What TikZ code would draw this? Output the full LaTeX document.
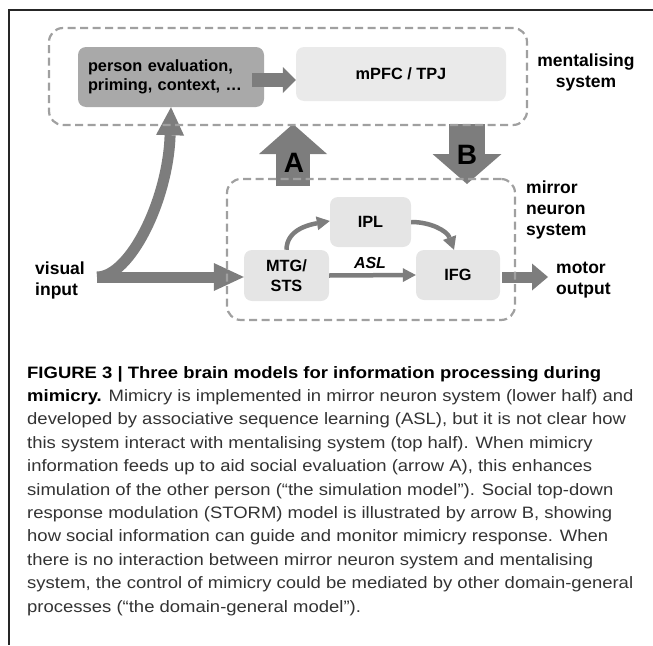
\documentclass[tikz,border=0pt]{standalone}
\usepackage{fontspec}
\setmainfont{Liberation Sans}
\newfontfamily\capfont{Liberation Sans}[FakeStretch=1.12]
\usetikzlibrary{arrows.meta,calc}
\definecolor{arrowgray}{HTML}{7D7D7D}
\definecolor{darkbox}{HTML}{A9A9A9}
\definecolor{lightbox}{HTML}{E5E5E5}
\definecolor{dashgray}{HTML}{A0A0A0}
\definecolor{captext}{HTML}{333333}
\begin{document}
\begin{tikzpicture}[x=1pt,y=-1pt,
  dashbox/.style={draw=dashgray, line width=2.2pt, dash pattern=on 8pt off 4.5pt, rounded corners=14pt, inner sep=0pt},
  graybox/.style={fill=lightbox, rounded corners=8pt, inner sep=0pt, font=\fontsize{16.3}{19.5}\selectfont\bfseries, align=center},
  sidelabel/.style={inner sep=0pt, font=\fontsize{17.5}{21}\selectfont\bfseries},
  blockarrow/.style={draw=arrowgray, color=arrowgray},
  thinarrow/.style={draw=arrowgray, line width=4.5pt, -{Triangle[length=13pt,width=14pt,line width=0pt]}},
  capline/.style={anchor=base west, inner sep=0pt, font=\fontsize{16.5}{20}\capfont, text=captext}
]
\useasboundingbox (0,0) rectangle (653,645);
% frame
\draw[line width=1.5pt, color=black!85] (653,10) -- (9,10) -- (9,645);

% boxes
\node[graybox, fill=darkbox, minimum width=186pt, minimum height=60pt, text width=166pt, align=left] (pe) at (171,77) {person evaluation,\\priming, context, …};
\node[graybox, fill=lightbox!80!white, minimum width=210pt, minimum height=54pt] (mpfc) at (401,74) {mPFC / TPJ};
\node[graybox, minimum width=81pt, minimum height=50pt] (ipl) at (370.5,222) {IPL};
\node[graybox, minimum width=85pt, minimum height=51pt] (mtg) at (286.5,275.5) {MTG/\\STS};
\node[graybox, minimum width=84pt, minimum height=50pt] (ifg) at (458,275) {IFG};

% side labels
\node[sidelabel, align=center] (ment) at (586,72.5) {mentalising\\system};
\node[sidelabel, align=left, anchor=west] (mirr) at (526,209.5) {mirror\\neuron\\system};
\node[sidelabel, align=left, anchor=west] (vis) at (35,280) {visual\\input};
\node[sidelabel, align=left, anchor=west] (mot) at (556,280.5) {motor\\output};

% coordinates
\coordinate (vin) at (97,277);
\coordinate (pestart) at ([xshift=-12pt,yshift=-3pt]pe.east);
\coordinate (Abot) at (293,186);
\coordinate (Atip) at (293,124);
\coordinate (Btop) at (467,124);
\coordinate (Btip) at (467,184);
\coordinate (ifgout) at (502,277);
\coordinate (motend) at (548,277);

% block arrows
\draw[blockarrow, line width=14pt, -{Triangle[length=13pt,width=26pt,line width=0pt]}] (pestart) -- (pestart -| mpfc.west);
\draw[blockarrow, line width=11pt, -{Triangle[length=30pt,width=28pt,line width=0pt]}] (vin) -- (vin -| mtg.west);
\draw[blockarrow, line width=11pt, -{Triangle[length=28pt,width=28pt,line width=0pt]}] (vin) .. controls (130,277) and (168,200) .. (pe.south);
\draw[blockarrow, line width=11pt, -{Triangle[length=16pt,width=27pt,line width=0pt]}] (ifgout) -- (motend);
\draw[blockarrow, line width=34pt, -{Triangle[length=30pt,width=68pt,line width=0pt]}] (Abot) -- (Atip);
\draw[blockarrow, line width=36pt, -{Triangle[length=30pt,width=69pt,line width=0pt]}] (Btop) -- (Btip);
\node[inner sep=0pt, font=\fontsize{28}{30}\selectfont\bfseries] (la) at (294,163) {A};
\node[inner sep=0pt, font=\fontsize{28}{30}\selectfont\bfseries] (lb) at (467,155) {B};

% thin arrows
\draw[thinarrow] (mtg.north) to[out=90,in=190] ([yshift=1pt]ipl.west);
\draw[thinarrow] (ipl.east) to[out=0,in=110] ([xshift=-4pt]ifg.north);
\draw[thinarrow] (mtg.east) -- (ifg.west);
\node[inner sep=0pt, font=\fontsize{16}{19}\selectfont\bfseries\itshape] (asl) at (370,263) {ASL};

% dashed systems (on top)
\node[dashbox, minimum width=478pt, minimum height=97pt] (ms) at (288,76.5) {};
\node[dashbox, minimum width=288pt, minimum height=141pt] (mns) at (371,249.5) {};

% caption
\node[capline] (c1) at (27,378) {\bfseries\color{black}FIGURE 3 | Three brain models for information processing during};
\node[capline] (c2) at (27,401.4) {{\bfseries\color{black}mimicry.} Mimicry is implemented in mirror neuron system (lower half) and};
\node[capline] (c3) at (27,424.8) {developed by associative sequence learning (ASL), but it is not clear how};
\node[capline] (c4) at (27,448.2) {this system interact with mentalising system (top half). When mimicry};
\node[capline] (c5) at (27,471.6) {information feeds up to aid social evaluation (arrow A), this enhances};
\node[capline] (c6) at (27,495) {simulation of the other person (“the simulation model”). Social top-down};
\node[capline] (c7) at (27,518.4) {response modulation (STORM) model is illustrated by arrow B, showing};
\node[capline] (c8) at (27,541.8) {how social information can guide and monitor mimicry response. When};
\node[capline] (c9) at (27,565.2) {there is no interaction between mirror neuron system and mentalising};
\node[capline] (c10) at (27,588.6) {system, the control of mimicry could be mediated by other domain-general};
\node[capline] (c11) at (27,612) {processes (“the domain-general model”).};
\end{tikzpicture}
\end{document}
